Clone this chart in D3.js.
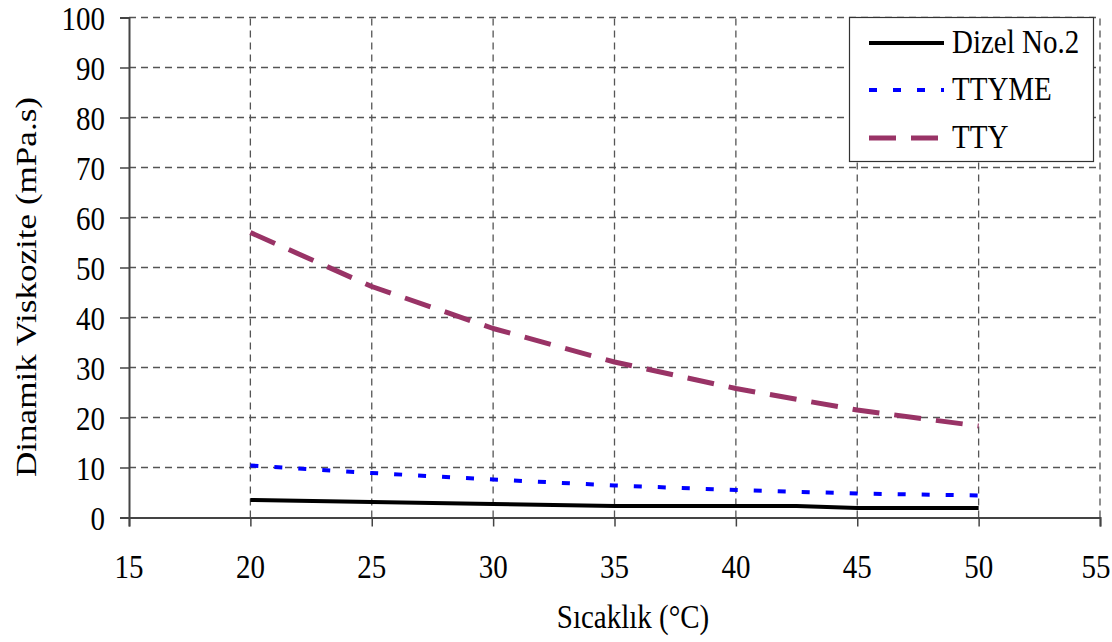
<!DOCTYPE html>
<html>
<head>
<meta charset="utf-8">
<script src="https://cdn.jsdelivr.net/npm/d3@7"></script>
<style>
  html, body { margin: 0; padding: 0; background: #fff; }
  svg { display: block; }
  svg text { font-family: "Liberation Serif"; }
</style>
</head>
<body>
<svg id="chart" width="1112" height="642"></svg>
<script>
// ---- data ----
const xTicks = [15, 20, 25, 30, 35, 40, 45, 50, 55];
const yTicks = [0, 10, 20, 30, 40, 50, 60, 70, 80, 90, 100];
const dizelTemps = [20, 25, 30, 35, 40, 42.5, 45, 50];
const dizelValues = [3.5, 3.1, 2.7, 2.3, 2.3, 2.3, 1.9, 1.9];
const temps = [20, 25, 30, 35, 40, 45, 50];
const ttymeValues = [10.4, 8.9, 7.6, 6.4, 5.5, 4.8, 4.4];
const ttyValues = [57.0, 46.2, 37.8, 31.1, 25.8, 21.5, 18.3];
const seriesNames = ["Dizel No.2", "TTYME", "TTY"];
const xLabel = "Sıcaklık (°C)";
const yLabel = "Dinamik Viskozite (mPa.s)";

// ---- layout ----
const svg = d3.select("#chart");
const x = d3.scaleLinear().domain([15, 55]).range([129, 1100]);
const y = d3.scaleLinear().domain([0, 100]).range([517.5, 17.5]);
const FS = 29, SY = 1.17;

const series = [
  { name: seriesNames[0], xs: dizelTemps, ys: dizelValues, color: "#000000", width: 4, dash: null },
  { name: seriesNames[1], xs: temps, ys: ttymeValues, color: "#0000ff", width: 4, dash: "8,16" },
  { name: seriesNames[2], xs: temps, ys: ttyValues, color: "#993366", width: 5, dash: "27,15" }
];

// gridlines
const grid = svg.append("g");
grid.selectAll("line.h").data(yTicks.filter(d => d > 0)).join("line")
  .attr("x1", x(15)).attr("x2", x(55))
  .attr("y1", d => y(d)).attr("y2", d => y(d))
  .attr("stroke", "#555").attr("stroke-width", 1.3).attr("stroke-dasharray", "7,5");
grid.selectAll("line.v").data(xTicks.filter(d => d > 15)).join("line")
  .attr("x1", d => x(d)).attr("x2", d => x(d))
  .attr("y1", y(0)).attr("y2", y(100))
  .attr("stroke", "#555").attr("stroke-width", 1.3).attr("stroke-dasharray", "7,5");

// axes
const xAxis = svg.append("g").attr("transform", `translate(0,${y(0)})`)
  .call(d3.axisBottom(x).tickValues(xTicks).tickSize(9).tickFormat(""));
const yAxis = svg.append("g").attr("transform", `translate(${x(15)},0)`)
  .call(d3.axisLeft(y).tickValues(yTicks).tickSize(9).tickFormat(""));
[xAxis, yAxis].forEach(a => {
  a.select(".domain").attr("stroke", "#444").attr("stroke-width", 2);
  a.selectAll(".tick line").attr("stroke", "#444").attr("stroke-width", 1.5);
});

// tick labels
svg.append("g").selectAll("text").data(xTicks).join("text")
  .attr("transform", d => `translate(${Math.min(x(d), 1096)},578) scale(1,${SY})`)
  .attr("text-anchor", "middle").attr("font-size", FS).text(d => d);
svg.append("g").selectAll("text").data(yTicks).join("text")
  .attr("transform", d => `translate(105,${y(d) + 12.5}) scale(1,${SY})`)
  .attr("text-anchor", "end").attr("font-size", FS).text(d => d);

// axis titles
svg.append("text")
  .attr("transform", `translate(633,628) scale(1,${SY})`)
  .attr("text-anchor", "middle").attr("font-size", FS).text(xLabel);
svg.append("text")
  .attr("transform", `translate(36,287) scale(1,${SY}) rotate(-90)`)
  .attr("text-anchor", "middle").attr("font-size", 30).text(yLabel);

// series lines
const line = d3.line().x(d => x(d[0])).y(d => y(d[1]));
series.forEach(s => {
  svg.append("path")
    .datum(s.xs.map((t, i) => [t, s.ys[i]]))
    .attr("d", line)
    .attr("fill", "none")
    .attr("stroke", s.color)
    .attr("stroke-width", s.width)
    .attr("stroke-linejoin", "round")
    .attr("stroke-dasharray", s.dash);
});

// legend
const lg = svg.append("g");
lg.append("rect").attr("x", 849.5).attr("y", 17.5).attr("width", 244).attr("height", 144)
  .attr("fill", "#fff").attr("stroke", "#333").attr("stroke-width", 1.2);
const rowY = [43, 90, 138];
series.forEach((s, i) => {
  lg.append("line").attr("x1", 869).attr("x2", 944).attr("y1", rowY[i]).attr("y2", rowY[i])
    .attr("stroke", s.color).attr("stroke-width", s.width).attr("stroke-dasharray", s.dash);
  lg.append("text").attr("transform", `translate(952,${rowY[i] + 10}) scale(1,${SY})`)
    .attr("font-size", FS).text(s.name);
});
</script>
</body>
</html>
